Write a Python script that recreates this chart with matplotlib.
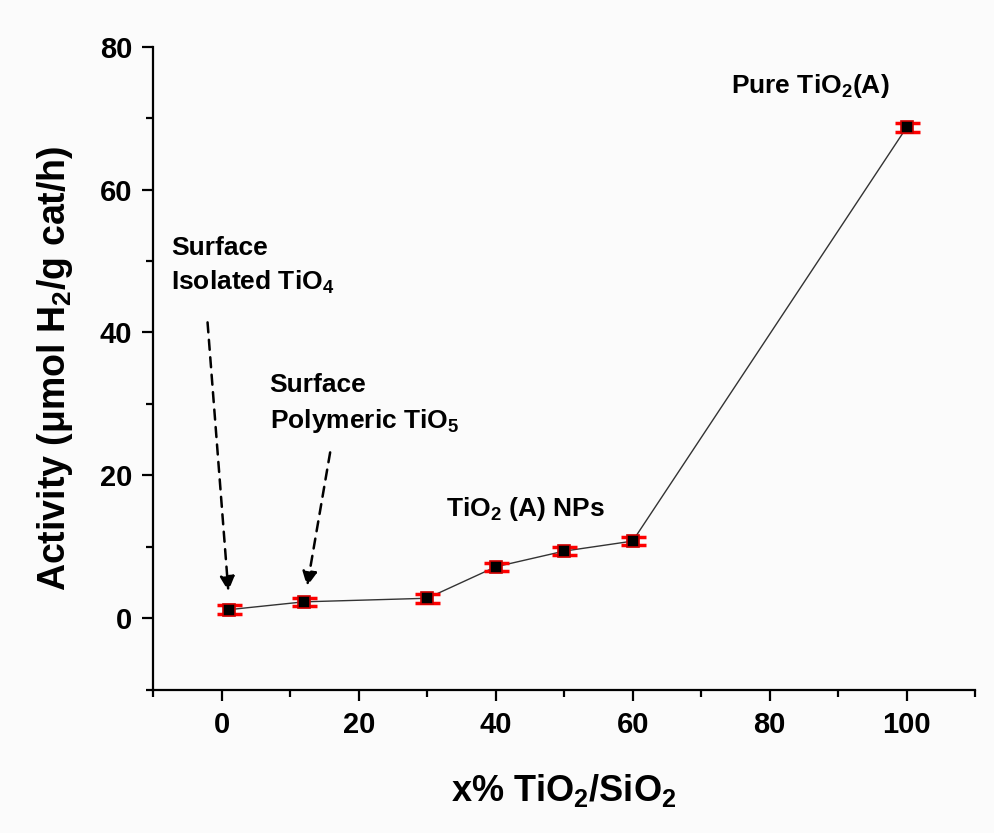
import matplotlib.pyplot as plt
from matplotlib.ticker import MultipleLocator

plt.rcParams['font.family'] = ['Liberation Sans', 'DejaVu Sans']
plt.rcParams['mathtext.fontset'] = 'custom'
plt.rcParams['mathtext.rm'] = 'Liberation Sans:bold'
plt.rcParams['mathtext.bf'] = 'Liberation Sans:bold'

loading = [1, 12, 30, 40, 50, 60, 100]
activity = [1.2, 2.3, 2.8, 7.2, 9.4, 10.8, 68.7]
err = [0.6, 0.6, 0.6, 0.6, 0.6, 0.6, 0.6]

fig = plt.figure(figsize=(9.95, 8.33), dpi=100)
fig.patch.set_facecolor('#fbfbfb')
ax = fig.add_axes([0.154, 0.172, 0.826, 0.772])
ax.set_facecolor('#fbfbfb')

ax.plot(loading, activity, color='#333333', lw=1, zorder=2)
ax.errorbar(loading, activity, yerr=err, fmt='none', ecolor='red',
            elinewidth=2, capsize=9, capthick=2.5, zorder=3)
ax.plot(loading, activity, 's', color='black', ms=8, mec='#cc0000', mew=1.2, zorder=4)

ax.set_xlim(-10, 110)
ax.set_ylim(-10, 80)
ax.xaxis.set_minor_locator(MultipleLocator(10))
ax.yaxis.set_minor_locator(MultipleLocator(10))
ax.set_xticks([0, 20, 40, 60, 80, 100])
ax.set_yticks([0, 20, 40, 60, 80])
for s in ['top', 'right']:
    ax.spines[s].set_visible(False)
for s in ['left', 'bottom']:
    ax.spines[s].set_linewidth(1.6)
ax.tick_params(which='major', direction='out', length=8, width=1.6, labelsize=21, pad=7)
ax.tick_params(which='minor', direction='out', length=5, width=1.6)
for lbl in ax.get_xticklabels() + ax.get_yticklabels():
    lbl.set_fontweight('bold')

ax.set_xlabel(r'x% TiO$_2$/SiO$_2$', fontsize=26, fontweight='bold', labelpad=24)
ax.set_ylabel(r'Activity ($\mathregular{\mu}$mol H$_2$/g cat/h)', fontsize=27,
              fontweight='bold', labelpad=18)

ax.text(-7.4, 49.3, 'Surface\nIsolated TiO$_4$', fontsize=19, fontweight='bold',
        linespacing=1.45, va='center', ha='left')
ax.text(7, 30, 'Surface\nPolymeric TiO$_5$', fontsize=19, fontweight='bold',
        linespacing=1.45, va='center', ha='left')
ax.text(32.8, 15.3, 'TiO$_2$ (A) NPs', fontsize=19, fontweight='bold', va='center')
ax.text(74.3, 74.5, 'Pure TiO$_2$(A)', fontsize=19, fontweight='bold', va='center')

arrow = dict(arrowstyle='-|>', ls=(0, (4, 3)), lw=1.8, color='black', mutation_scale=22)
ax.annotate('', xy=(loading[0], activity[0] + 2.2), xytext=(-2.1, 41.8), arrowprops=arrow)
ax.annotate('', xy=(loading[1] + 0.4, activity[1] + 1.8), xytext=(15.9, 23.6), arrowprops=arrow)

fig.savefig('out.png', dpi=100, facecolor=fig.get_facecolor())
